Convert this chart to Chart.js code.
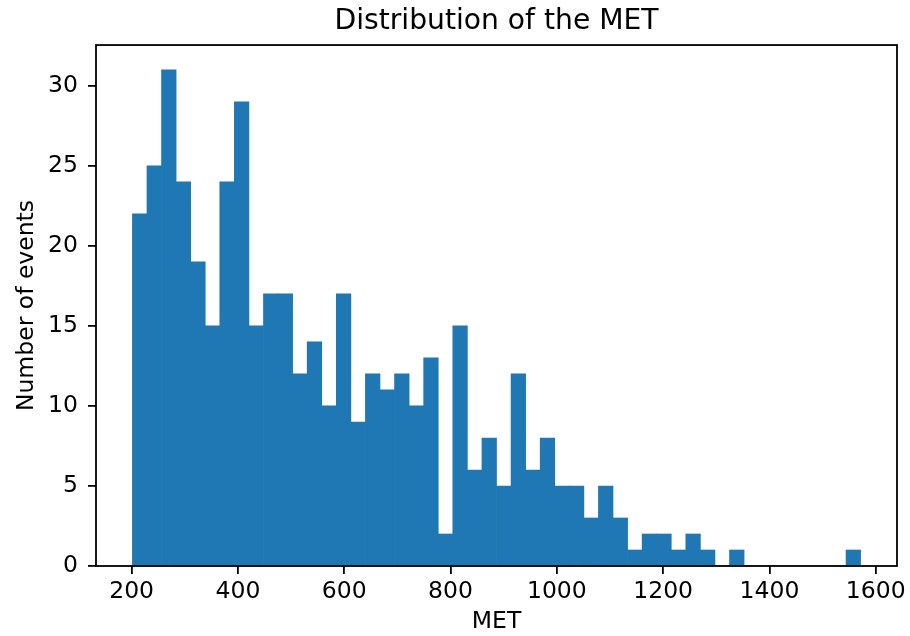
<!DOCTYPE html>
<html>
<head>
<meta charset="utf-8">
<title>Distribution of the MET</title>
<script src="https://cdn.jsdelivr.net/npm/chart.js@4.4.1/dist/chart.umd.min.js"></script>
<style>
  html, body { margin: 0; padding: 0; background: #fff; }
  #wrap { width: 910px; height: 636px; }
</style>
</head>
<body>
<div id="wrap"><canvas id="metChart" width="910" height="636"></canvas></div>
<script>
// MET histogram, 50 equal bins
const binStart = 201.5;
const binWidth = 27.4;
const counts = [
    22, 25, 31, 24, 19, 15, 24, 29, 15, 17,
    17, 12, 14, 10, 17, 9, 12, 11, 12, 10,
    13, 2, 15, 6, 8, 5, 12, 6, 8, 5,
    5, 3, 5, 3, 1, 2, 2, 1, 2, 1,
    0, 1, 0, 0, 0, 0, 0, 0, 0, 1
];
const xTicks = [200, 400, 600, 800, 1000, 1200, 1400, 1600];
const yTicks = [0, 5, 10, 15, 20, 25, 30];

const binEnd = binStart + binWidth * counts.length;
const pad = 0.05 * (binEnd - binStart);
const yMax = Math.max(...counts) * 1.05;

const points = counts.map((c, i) => ({ x: binStart + (i + 0.5) * binWidth, y: c }));

Chart.defaults.font.family = '"DejaVu Sans", sans-serif';
Chart.defaults.color = '#000';

const labelSize = 23.5;

// axes frame on all four sides
const frame = {
    id: 'frame',
    afterDraw(chart) {
        const { ctx, chartArea: a } = chart;
        ctx.save();
        ctx.strokeStyle = '#000';
        ctx.lineWidth = 1.8;
        ctx.strokeRect(a.left, a.top, a.right - a.left, a.bottom - a.top);
        ctx.restore();
    }
};

new Chart(document.getElementById('metChart'), {
    type: 'bar',
    data: {
        datasets: [{
            data: points,
            backgroundColor: '#1f77b4',
            borderWidth: 0,
            barPercentage: 1.0,
            categoryPercentage: 1.0
        }]
    },
    plugins: [frame],
    options: {
        responsive: false,
        animation: false,
        layout: { padding: { top: 0, right: 13, bottom: 0, left: 0 } },
        plugins: {
            legend: { display: false },
            tooltip: { enabled: false },
            title: {
                display: true,
                text: 'Distribution of the MET',
                fullSize: false,
                font: { size: 28.2, weight: 'normal' },
                padding: { top: 5, bottom: 6.2 }
            }
        },
        scales: {
            x: {
                type: 'linear',
                min: binStart - pad,
                max: binEnd + pad,
                offset: false,
                afterFit: s => { s.height = 70; },
                afterBuildTicks: s => { s.ticks = xTicks.map(v => ({ value: v })); },
                ticks: { font: { size: labelSize }, padding: 3.5, maxRotation: 0, callback: v => String(v) },
                grid: { display: true, offset: false, drawOnChartArea: false, drawTicks: true, tickLength: 8, color: '#000', lineWidth: 1.8 },
                border: { display: false },
                title: { display: true, text: 'MET', font: { size: labelSize }, padding: { top: 0, bottom: 0 } }
            },
            y: {
                min: 0,
                max: yMax,
                afterFit: s => { s.width = 96; },
                afterBuildTicks: s => { s.ticks = yTicks.map(v => ({ value: v })); },
                ticks: { font: { size: labelSize }, padding: 10, callback: v => String(v) },
                grid: { display: true, drawOnChartArea: false, drawTicks: true, tickLength: 8, color: '#000', lineWidth: 1.8 },
                border: { display: false },
                title: { display: true, text: 'Number of events', font: { size: labelSize }, padding: { top: 12.3, bottom: 0 } }
            }
        }
    }
});
</script>
</body>
</html>
